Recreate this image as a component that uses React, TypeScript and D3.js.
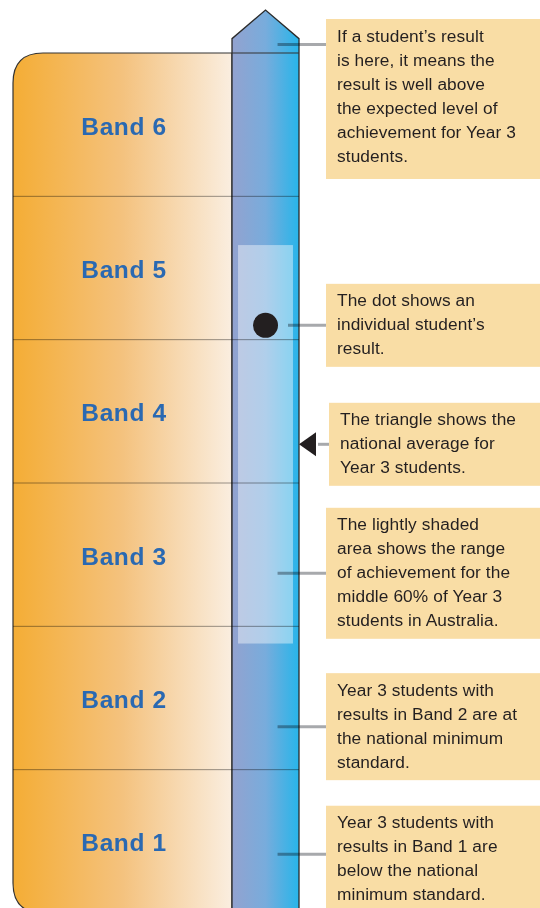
import React from "react"
import * as d3 from "d3"

// bands, bottom to top
const bandLabels = ["Band 1", "Band 2", "Band 3", "Band 4", "Band 5", "Band 6"]
const studentResult = 4.1
const nationalAverage = 3.27
const middleRange = [1.88, 4.66]
const arrowTop = 6.3
const arrowShoulder = 6.1

const noteTexts = [
  ["If a student\u2019s result", "is here, it means the", "result is well above", "the expected level of", "achievement for Year 3", "students."],
  ["The dot shows an", "individual student\u2019s", "result."],
  ["The triangle shows the", "national average for", "Year 3 students."],
  ["The lightly shaded", "area shows the range", "of achievement for the", "middle 60% of Year 3", "students in Australia."],
  ["Year 3 students with", "results in Band 2 are at", "the national minimum", "standard."],
  ["Year 3 students with", "results in Band 1 are", "below the national", "minimum standard."],
]
// what each note points at, in band units
const noteTargets = [6.06, 4.1, 3.27, 2.37, 1.3, 0.41]

const W = 540
const H = 908
const FONT = "'Liberation Sans', Arial, sans-serif"

const App = () => {
  const y = d3.scaleLinear().domain([0, 6]).range([913, 53])
  const colX = d3.scaleLinear().domain([0, 1]).range([232, 299])
  const leftX0 = 13
  const r = 30
  const yTop = y(6)
  const yBot = y(0)

  const leftPath = `M${colX(0)},${yTop} L${leftX0 + r},${yTop} Q${leftX0},${yTop} ${leftX0},${yTop + r} L${leftX0},${yBot - r} Q${leftX0},${yBot} ${leftX0 + r},${yBot} L${colX(0)},${yBot} Z`
  const colPath = `M${colX(0)},${yBot + 10} L${colX(0)},${y(arrowShoulder)} L${colX(0.5)},${y(arrowTop)} L${colX(1)},${y(arrowShoulder)} L${colX(1)},${yBot + 10}`

  const lineH = 24
  const boxes = noteTexts.map((lines, i) => {
    const h = lines.length * lineH + (i === 0 ? 16 : 11)
    let top = y(noteTargets[i]) - h / 2
    if (i === 0) top = 19
    if (i === 5) top += 5
    const bx = i === 2 ? 329 : 326
    return { lines, top, h, bx, ly: y(noteTargets[i]) }
  })

  const dotR = 12.5
  const triY = y(nationalAverage)

  return (
    <svg width={W} height={H} style={{ position: "absolute", left: 0, top: 0 }}>
      <defs>
        <linearGradient id="bandGrad" x1="0" x2="1" y1="0" y2="0">
          <stop offset="0" stopColor="#f4ad35" />
          <stop offset="0.5" stopColor="#f4c27e" />
          <stop offset="1" stopColor="#faeee0" />
        </linearGradient>
        <linearGradient id="colGrad" x1="0" x2="1" y1="0" y2="0">
          <stop offset="0" stopColor="#93a2cf" />
          <stop offset="0.5" stopColor="#78acdc" />
          <stop offset="1" stopColor="#27b5ea" />
        </linearGradient>
      </defs>

      <path d={leftPath} fill="url(#bandGrad)" stroke="#333" strokeWidth={1.2} />
      <path d={colPath} fill="url(#colGrad)" stroke="#2b2b2b" strokeWidth={1.3} />

      {/* middle 60% shading */}
      <rect x={colX(0.09)} y={y(middleRange[1])} width={colX(0.91) - colX(0.09)} height={y(middleRange[0]) - y(middleRange[1])}
        fill="#ffffff" fillOpacity={0.42} />

      {/* band dividers */}
      {d3.range(1, 6).map(i => (
        <line key={i} x1={leftX0} x2={colX(1)} y1={y(i)} y2={y(i)} stroke="#9a9a9a" strokeWidth={1}
          style={{ mixBlendMode: "multiply" }} />
      ))}
      <line x1={colX(0)} x2={colX(1)} y1={yTop} y2={yTop} stroke="#333" strokeWidth={1.2} />

      {bandLabels.map((b, i) => (
        <text key={b} x={124} y={(y(i) + y(i + 1)) / 2 + 10} textAnchor="middle" fontFamily={FONT}
          fontWeight="bold" fontSize={24.5} letterSpacing={0.6} fill="#2a69b2">{b}</text>
      ))}

      {/* leader lines */}
      {boxes.map((b, i) => {
        let x1 = colX(0.68)
        if (i === 1) x1 = colX(0.5) + dotR + 10
        if (i === 2) x1 = colX(1) + 19
        return <line key={i} x1={x1} x2={b.bx} y1={b.ly} y2={b.ly} stroke="#a7a9ac" strokeWidth={3}
          style={{ mixBlendMode: "multiply" }} />
      })}

      <circle cx={colX(0.5)} cy={y(studentResult)} r={dotR} fill="#231f20" />
      <path d={`M${colX(1)},${triY} L${colX(1) + 17},${triY - 12} L${colX(1) + 17},${triY + 12} Z`} fill="#231f20" />

      {boxes.map((b, i) => (
        <g key={i}>
          <rect x={b.bx} y={b.top} width={W - b.bx} height={b.h} fill="#f9dda5" />
          {b.lines.map((t, j) => (
            <text key={j} x={b.bx + 11} y={b.top + 22.5 + j * lineH} fontFamily={FONT} fontSize={17.3}
              letterSpacing={0.1} fill="#231f20">{t}</text>
          ))}
        </g>
      ))}
    </svg>
  )
}

export default App
